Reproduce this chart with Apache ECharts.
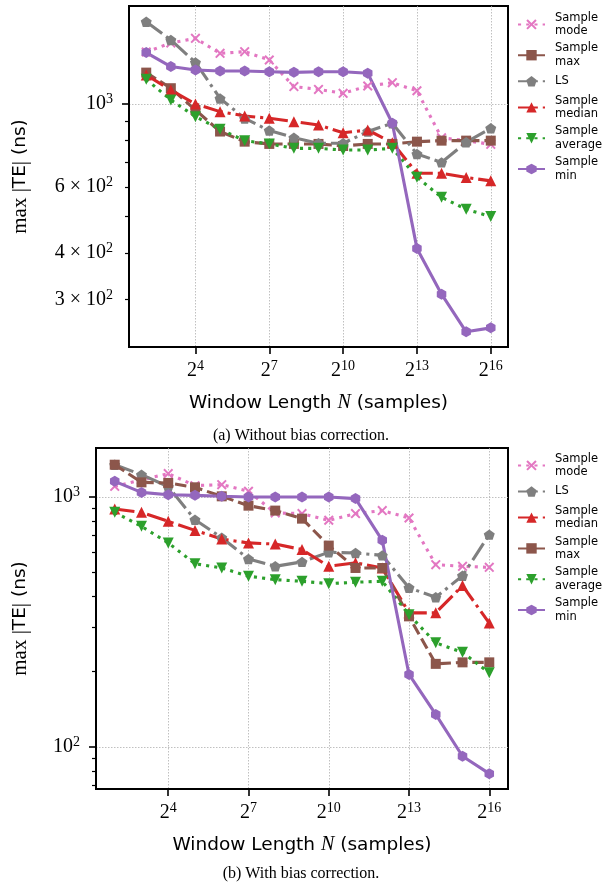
<!DOCTYPE html>
<html><head><meta charset="utf-8">
<script src="https://cdn.jsdelivr.net/npm/echarts@6/dist/echarts.min.js"></script>
<style>html,body{margin:0;padding:0;background:#fff}#c{width:602px;height:884px}</style>
</head><body><div id="c"></div>
<script>
// x values: exponent k of window length N = 2^k
const exps = [2,3,4,5,6,7,8,9,10,11,12,13,14,15,16];
const xTickExps = [4,7,10,13,16];

// (a) Without bias correction: max|TE| (ns)
const aMode    = [1377,1456,1498,1366,1380,1311,1113,1094,1068,1117,1140,1085,812,798,780];
const aMax     = [1213,1102,964,844,793,782,782,782,772,782,782,793,798,798,798];
const aLS      = [1660,1483,1292,1035,915,849,813,785,785,844,888,735,698,790,861];
const aMedian  = [1195,1090,1000,954,929,916,897,879,838,852,788,653,653,636,623];
const aAverage = [1164,1025,925,856,798,782,761,761,753,753,761,637,563,523,500];
const aMin     = [1372,1259,1233,1225,1225,1220,1215,1220,1220,1208,888,411,310,246,252];

// (b) With bias correction: max|TE| (ns)
const bMode    = [1103,1170,1240,1110,1120,1054,863,858,807,858,882,824,536,528,523];
const bLS      = [1346,1228,1100,811,687,565,528,550,601,597,584,433,397,484,707];
const bMedian  = [895,868,799,735,679,655,648,616,528,545,520,344,344,442,313];
const bMax     = [1346,1144,1138,1093,1006,923,882,819,639,520,520,333,215,218,218];
const bAverage = [868,763,655,541,520,482,467,460,450,456,460,338,261,239,198];
const bMin     = [1155,1043,1021,1015,1006,1000,1000,1000,1000,985,671,195,135,91.8,78.2];

// y-axis tick values (ns)
const aYRange = [224, 1828];
const aYLabels = [300, 400, 600, 1000];
const aYMajor = [1000];
const aYMinor = [300, 400, 500, 600, 700, 800, 900];
const bYRange = [67.9, 1570];
const bYLabels = [100, 1000];
const bYMajor = [100, 1000];
const bYMinor = [70, 80, 90, 200, 300, 400, 500, 600, 700, 800, 900];

const legendA = ['Sample mode', 'Sample max', 'LS', 'Sample median', 'Sample average', 'Sample min'];
const legendB = ['Sample mode', 'LS', 'Sample median', 'Sample max', 'Sample average', 'Sample min'];

const SERIF = 'Liberation Serif';
const SANS = 'DejaVu Sans';
const lw = 3.1;
const dotted = [lw, lw * 1.65];
const dashed = [lw * 3.7, lw * 1.6];
const dashdot = [lw * 6.4, lw * 1.6, lw, lw * 1.6];

const styles = {
  'Sample mode':    {color: '#e377c2', dash: dotted,  symbol: 'path://M1.4,0 L5,3.6 L8.6,0 L10,1.4 L6.4,5 L10,8.6 L8.6,10 L5,6.4 L1.4,10 L0,8.6 L3.6,5 L0,1.4 Z', size: 10, rot: 0},
  'Sample max':     {color: '#8c564b', dash: dashed,  symbol: 'rect', size: 10, rot: 0},
  'LS':             {color: '#7f7f7f', dash: dashdot, symbol: 'path://M0.951,0 L1.902,0.691 L1.539,1.809 L0.363,1.809 L0,0.691 Z', size: 11, rot: 0},
  'Sample median':  {color: '#d62728', dash: dashdot, symbol: 'triangle', size: 11, rot: 0},
  'Sample average': {color: '#2ca02c', dash: dotted,  symbol: 'triangle', size: 11, rot: 180},
  'Sample min':     {color: '#9467bd', dash: 'solid', symbol: 'path://M0.866,0 L1.732,0.5 L1.732,1.5 L0.866,2 L0,1.5 L0,0.5 Z', size: 11, rot: 0}
};

const L = Math.log10;
function yFmt(v) {
  const val = Math.round(Math.pow(10, v) * 1000) / 1000;
  const e = Math.floor(L(val) + 1e-9);
  const m = Math.round(val / Math.pow(10, e));
  if (m === 1) return '{b|10}{s|' + e + '}';
  return '{b|' + m + ' \u00d7 10}{s|' + e + '}';
}
const labelRich = {
  b: {fontFamily: SERIF, fontSize: 20, color: '#000'},
  s: {fontFamily: SERIF, fontSize: 14, color: '#000', padding: [0, 0, 9, 0]}
};
const gridLine = {show: true, lineStyle: {color: '#b0b0b0', type: [1.5, 1.5], width: 0.8}};

const grids = [
  {left: 129, top: 6, width: 379, height: 341},
  {left: 96, top: 448, width: 412, height: 341}
];

function xAxis(gi, nameGap) {
  return {
    type: 'value', gridIndex: gi, min: 1.3, max: 16.7,
    axisLine: {show: true, lineStyle: {color: '#000', width: 2}},
    axisTick: {show: true, length: 7, lineStyle: {color: '#000', width: 1.6}, customValues: xTickExps},
    axisLabel: {customValues: xTickExps, margin: 12, formatter: v => '{b|2}{s|' + v + '}', rich: labelRich},
    splitLine: gridLine,
    name: '{t|Window Length }{i|N}{t| (samples)}',
    nameLocation: 'middle', nameGap: nameGap,
    nameTextStyle: {rich: {
      t: {fontFamily: SANS, fontSize: 18.5, color: '#000'},
      i: {fontFamily: SERIF, fontStyle: 'italic', fontSize: 20, color: '#000'}
    }}
  };
}
function yAxes(gi, range, labels, major, minor, nameGap) {
  const lo = L(range[0]), hi = L(range[1]);
  return [
    {type: 'log', gridIndex: gi, min: range[0], max: range[1], show: false},
    {
      type: 'value', gridIndex: gi, min: lo, max: hi, position: 'left',
      axisLine: {show: true, lineStyle: {color: '#000', width: 2}},
      axisTick: {show: true, length: 7, lineStyle: {color: '#000', width: 1.6}, customValues: major.map(L)},
      axisLabel: {customValues: labels.map(L), margin: 16, formatter: yFmt, rich: labelRich},
      splitLine: gridLine,
      name: '{m|max |}{t|TE}{m||}{t| (ns)}',
      nameLocation: 'middle', nameGap: nameGap, nameRotate: 90,
      nameTextStyle: {rich: {
        m: {fontFamily: SERIF, fontSize: 21, color: '#000'},
        t: {fontFamily: SANS, fontSize: 18.5, color: '#000'}
      }}
    },
    {
      type: 'value', gridIndex: gi, min: lo, max: hi, position: 'left',
      axisLine: {show: false},
      axisTick: {show: true, length: 4, lineStyle: {color: '#000', width: 1.2}, customValues: minor.map(L)},
      axisLabel: {show: false},
      splitLine: {show: false}
    }
  ];
}

function series(name, vals, gi, yIdx) {
  const s = styles[name];
  return {
    type: 'line', name: name, xAxisIndex: gi, yAxisIndex: yIdx,
    data: exps.map((e, i) => [e, vals[i]]),
    symbol: s.symbol, symbolSize: s.size, symbolRotate: s.rot, symbolKeepAspect: true,
    showAllSymbol: true,
    lineStyle: {color: s.color, width: lw, type: s.dash, cap: 'butt'},
    itemStyle: {color: s.color},
    emphasis: {disabled: true}
  };
}

function legend(names, top) {
  return {
    data: names.map(n => n === 'LS'
      ? {name: n, textStyle: {padding: [2, 0, 2, 5]}}
      : n),
    orient: 'vertical', left: 517, top: top, padding: 0,
    itemWidth: 27, itemHeight: 13, itemGap: 4,
    formatter: n => n.replace(' ', '\n'),
    textStyle: {fontFamily: SANS, fontSize: 11.5, lineHeight: 13.4, color: '#000', padding: [0, 0, 0, 5]},
    selectedMode: false
  };
}

const chart = echarts.init(document.getElementById('c'), null, {renderer: 'canvas'});
chart.setOption({
  animation: false,
  backgroundColor: '#fff',
  title: [
    {text: '(a) Without bias correction.', left: 'center', top: 423,
     textStyle: {fontFamily: SERIF, fontSize: 16, fontWeight: 'normal', color: '#000'}},
    {text: '(b) With bias correction.', left: 'center', top: 861,
     textStyle: {fontFamily: SERIF, fontSize: 16, fontWeight: 'normal', color: '#000'}}
  ],
  grid: grids.map(g => Object.assign({show: true, borderColor: '#000', borderWidth: 2, backgroundColor: 'transparent'}, g)),
  legend: [legend(legendA, 11), legend(legendB, 452)],
  xAxis: [xAxis(0, 46), xAxis(1, 46)],
  yAxis: [].concat(
    yAxes(0, aYRange, aYLabels, aYMajor, aYMinor, 98),
    yAxes(1, bYRange, bYLabels, bYMajor, bYMinor, 65)
  ),
  series: [
    series('Sample mode', aMode, 0, 0),
    series('Sample max', aMax, 0, 0),
    series('LS', aLS, 0, 0),
    series('Sample median', aMedian, 0, 0),
    series('Sample average', aAverage, 0, 0),
    series('Sample min', aMin, 0, 0),
    series('Sample mode', bMode, 1, 3),
    series('LS', bLS, 1, 3),
    series('Sample median', bMedian, 1, 3),
    series('Sample max', bMax, 1, 3),
    series('Sample average', bAverage, 1, 3),
    series('Sample min', bMin, 1, 3)
  ]
});
</script></body></html>
